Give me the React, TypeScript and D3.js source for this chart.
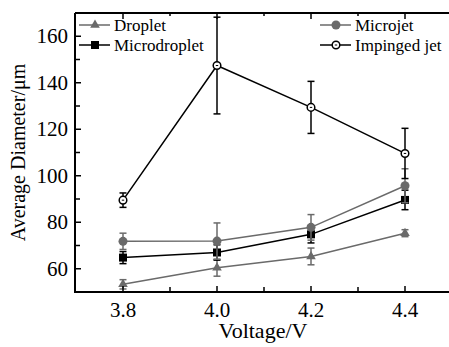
import React, { useEffect, useRef } from 'react';
import * as d3 from 'd3';

const voltages = [3.8, 4.0, 4.2, 4.4];

const dropletMean = [53.3, 60.4, 65.3, 75.3];
const dropletErr = [2, 3.6, 3.6, 1.5];
const microdropletMean = [64.8, 67.0, 74.8, 89.6];
const microdropletErr = [2.6, 3.3, 3.7, 4.2];
const microjetMean = [71.8, 71.9, 77.8, 95.7];
const microjetErr = [3.5, 7.8, 5.5, 7.3];
const impingedMean = [89.5, 147.4, 129.4, 109.6];
const impingedErr = [3.1, 20.8, 11.2, 10.8];

const xTicks = [3.8, 4.0, 4.2, 4.4];
const xMinor = [3.9, 4.1, 4.3];
const yTicks = [60, 80, 100, 120, 140, 160];
const yMinor = [70, 90, 110, 130, 150];

const GRAY = '#6a6a6a';
const FONT = 'Liberation Serif';

type Series = {
  name: string;
  mean: number[];
  err: number[];
  color: string;
  marker: string;
};

const series: Series[] = [
  { name: 'Droplet', mean: dropletMean, err: dropletErr, color: GRAY, marker: 'triangle' },
  { name: 'Microdroplet', mean: microdropletMean, err: microdropletErr, color: '#000', marker: 'square' },
  { name: 'Microjet', mean: microjetMean, err: microjetErr, color: GRAY, marker: 'circle' },
  { name: 'Impinged jet', mean: impingedMean, err: impingedErr, color: '#000', marker: 'open' },
];

export default function App() {
  const svgRef = useRef<SVGSVGElement>(null);
  const width = 449;
  const height = 347;

  useEffect(() => {
    const svg = d3.select(svgRef.current);
    svg.selectAll('*').remove();

    const left = 75;
    const top = 13;
    const bottom = 292;

    const x = d3.scaleLinear().domain([3.7, 4.5]).range([left + 1, 452]);
    const y = d3.scaleLinear().domain([50, 170]).range([bottom, top]);

    svg.append('rect').attr('width', width).attr('height', height).attr('fill', '#fff');

    const drawMarker = (g: any, type: string, cx: number, cy: number, color: string) => {
      if (type === 'triangle') {
        g.append('path')
          .attr('d', d3.symbol().type(d3.symbolTriangle).size(40)())
          .attr('transform', `translate(${cx},${cy})`)
          .attr('fill', color);
      } else if (type === 'square') {
        g.append('rect').attr('x', cx - 4).attr('y', cy - 4).attr('width', 8).attr('height', 8).attr('fill', color);
      } else if (type === 'circle') {
        g.append('circle').attr('cx', cx).attr('cy', cy).attr('r', 4.5).attr('fill', color);
      } else {
        g.append('circle').attr('cx', cx).attr('cy', cy).attr('r', 3.8)
          .attr('fill', '#fff').attr('stroke', color).attr('stroke-width', 1.5);
        g.append('line').attr('x1', cx - 1.2).attr('x2', cx + 1.2).attr('y1', cy).attr('y2', cy)
          .attr('stroke', color).attr('stroke-width', 1);
      }
    };

    const line = d3.line<number>()
      .x((_, i) => x(voltages[i]))
      .y(d => y(d));

    series.forEach(s => {
      const g = svg.append('g');
      g.append('path').attr('d', line(s.mean)).attr('fill', 'none')
        .attr('stroke', s.color).attr('stroke-width', 1.5);
      s.mean.forEach((m, i) => {
        const cx = x(voltages[i]);
        const y1 = y(m + s.err[i]);
        const y2 = y(m - s.err[i]);
        const eg = g.append('g').attr('stroke', s.color).attr('stroke-width', 1.5);
        eg.append('line').attr('x1', cx).attr('x2', cx).attr('y1', y1).attr('y2', y2);
        eg.append('line').attr('x1', cx - 3.5).attr('x2', cx + 3.5).attr('y1', y1).attr('y2', y1);
        eg.append('line').attr('x1', cx - 3.5).attr('x2', cx + 3.5).attr('y1', y2).attr('y2', y2);
      });
      s.mean.forEach((m, i) => drawMarker(g, s.marker, x(voltages[i]), y(m), s.color));
    });

    // frame
    const frame = svg.append('g').attr('stroke', '#000').attr('stroke-width', 2);
    frame.append('line').attr('x1', left).attr('x2', width).attr('y1', bottom).attr('y2', bottom);
    frame.append('line').attr('x1', left).attr('x2', width).attr('y1', top).attr('y2', top);
    frame.append('line').attr('x1', left).attr('x2', left).attr('y1', top).attr('y2', bottom + 1);

    const ticks = svg.append('g').attr('stroke', '#000').attr('stroke-width', 1.5);
    xTicks.forEach(t => {
      ticks.append('line').attr('x1', x(t)).attr('x2', x(t)).attr('y1', bottom).attr('y2', bottom - 6);
      ticks.append('line').attr('x1', x(t)).attr('x2', x(t)).attr('y1', top).attr('y2', top + 6);
    });
    xMinor.forEach(t => {
      ticks.append('line').attr('x1', x(t)).attr('x2', x(t)).attr('y1', bottom).attr('y2', bottom - 5);
      ticks.append('line').attr('x1', x(t)).attr('x2', x(t)).attr('y1', top).attr('y2', top + 3);
    });
    yTicks.forEach(t => {
      ticks.append('line').attr('x1', left).attr('x2', left + 6).attr('y1', y(t)).attr('y2', y(t));
    });
    yMinor.forEach(t => {
      ticks.append('line').attr('x1', left).attr('x2', left + 5).attr('y1', y(t)).attr('y2', y(t));
    });

    const text = (parent: any, str: string, tx: number, ty: number, size: number, anchor = 'start') =>
      parent.append('text')
        .attr('x', tx).attr('y', ty)
        .attr('font-family', FONT)
        .style('font-family', `'${FONT}'`)
        .attr('font-size', size)
        .attr('text-anchor', anchor)
        .attr('fill', '#000')
        .text(str);

    xTicks.forEach(t => text(svg, d3.format('.1f')(t), x(t), 317, 21, 'middle'));
    yTicks.forEach(t => text(svg, String(t), 68, y(t) + 7, 21, 'end'));

    text(svg, 'Voltage/V', 263, 338, 22, 'middle');
    const yt = svg.append('g').attr('transform', `translate(25,${(top + bottom) / 2}) rotate(-90)`);
    text(yt, 'Average Diameter/μm', 0, 0, 20, 'middle');

    const legendRows = [
      { s: series[0], lx: 79, ty: 25 },
      { s: series[1], lx: 79, ty: 45 },
      { s: series[2], lx: 320, ty: 25 },
      { s: series[3], lx: 320, ty: 45 },
    ];
    legendRows.forEach(({ s, lx, ty }) => {
      const g = svg.append('g');
      g.append('line').attr('x1', lx).attr('x2', lx + 31).attr('y1', ty).attr('y2', ty)
        .attr('stroke', s.color).attr('stroke-width', 1.5);
      drawMarker(g, s.marker, lx + 16, ty, s.color);
      text(g, s.name, lx + 35, ty + 6, 17);
    });
  }, []);

  return (
    <svg
      ref={svgRef}
      width={width}
      height={height}
      style={{ position: 'absolute', left: 0, top: 0, fontFamily: `'${FONT}'` }}
    />
  );
}
